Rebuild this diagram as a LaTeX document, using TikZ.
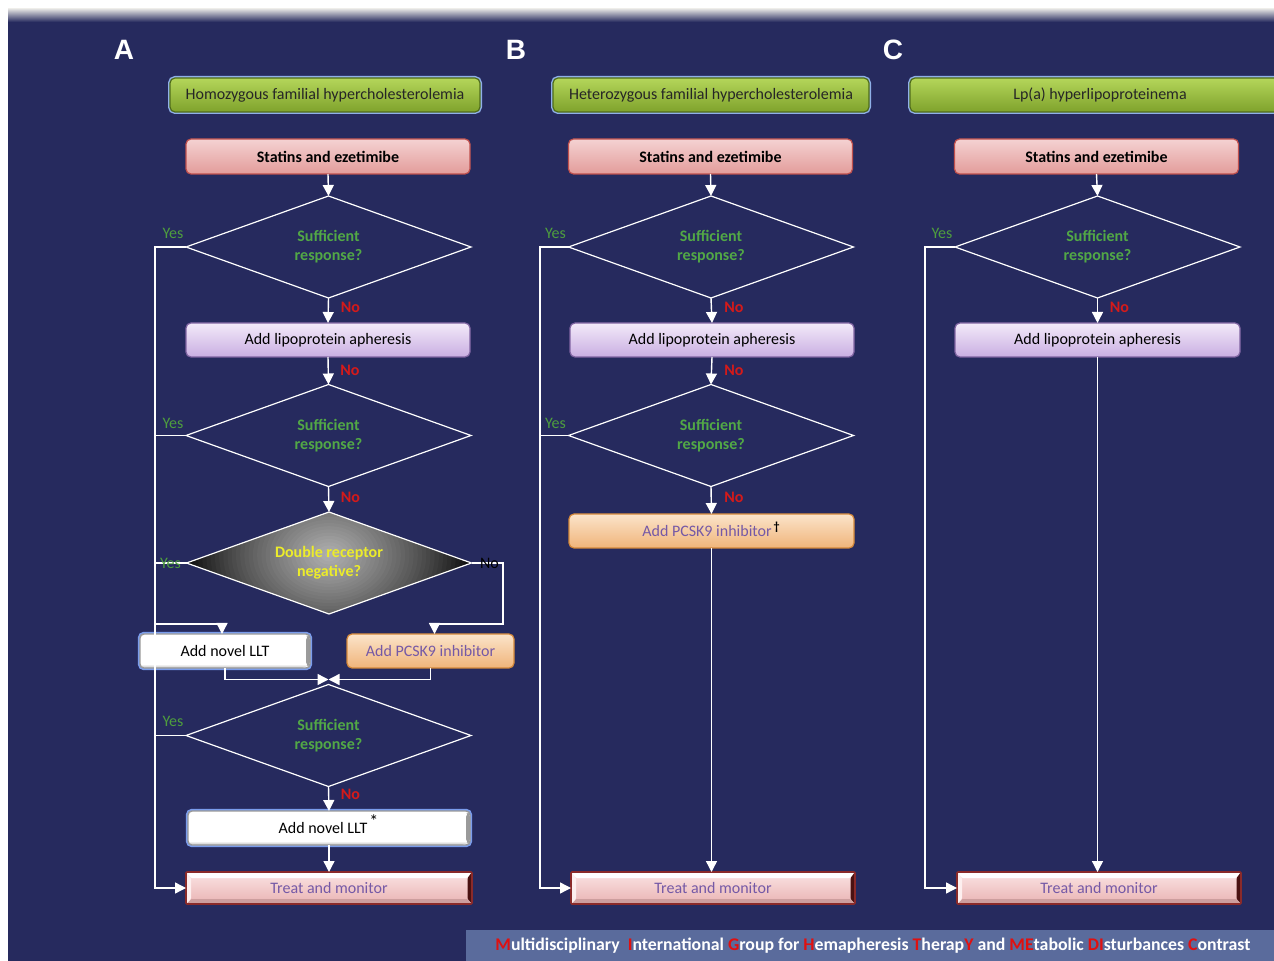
\documentclass[tikz,border=0pt]{standalone}
\usepackage{fontspec}
\setmainfont{Carlito}
\newfontfamily\letterfont{Liberation Sans}
\usetikzlibrary{shapes.geometric,arrows.meta,calc}

\definecolor{bgnavy}{HTML}{262A5E}
\definecolor{grnTop}{HTML}{B4D65A}
\definecolor{grnBot}{HTML}{7FA22C}
\definecolor{grnBorder}{HTML}{4F6B1A}
\definecolor{glow}{HTML}{8FB0E8}
\definecolor{pkTop}{HTML}{F4D2D2}
\definecolor{pkBot}{HTML}{E39C9A}
\definecolor{pkBorder}{HTML}{C0504D}
\definecolor{puTop}{HTML}{F3EAF9}
\definecolor{puBot}{HTML}{C9AEE2}
\definecolor{puBorder}{HTML}{8064A2}
\definecolor{orTop}{HTML}{FBE4CA}
\definecolor{orBot}{HTML}{F0B47A}
\definecolor{orBorder}{HTML}{D5893A}
\definecolor{tmTop}{HTML}{FBE4E4}
\definecolor{tmBot}{HTML}{E9B3B3}
\definecolor{tmBorder}{HTML}{8A2A2A}
\definecolor{tmDark}{HTML}{4A1212}
\definecolor{txtPurple}{HTML}{7559A6}
\definecolor{sufGreen}{HTML}{52A846}
\definecolor{yesGreen}{HTML}{4E9E3E}
\definecolor{noRed}{HTML}{D41A1A}
\definecolor{drYellow}{HTML}{ECEC2A}
\definecolor{llBlue}{HTML}{7A9CEC}
\definecolor{bannerBlue}{HTML}{5A6B9C}
\definecolor{bnRed}{HTML}{E01010}

\newcommand\redl[1]{{\color{bnRed}#1}}

\tikzset{
  basefont/.style={font=\fontsize{8}{9.6}\selectfont},
  box/.style={rectangle, rounded corners=2.5pt, minimum width=142pt, minimum height=17pt,
    inner sep=0pt, outer sep=0pt, line width=0.6pt, basefont},
  hdr/.style={box, minimum width=155pt, minimum height=17pt, top color=grnTop, bottom color=grnBot,
    draw=grnBorder, preaction={draw=glow, line width=2pt}, text=black!85},
  statbox/.style={box, minimum height=17.5pt, top color=pkTop, bottom color=pkBot, draw=pkBorder,
    font=\fontsize{8}{9.6}\selectfont\bfseries, text=black},
  apbox/.style={box, top color=puTop, bottom color=puBot, draw=puBorder, text=black},
  pcbox/.style={box, top color=orTop, bottom color=orBot, draw=orBorder, text=txtPurple},
  llbox/.style={box, rounded corners=2pt, fill=white, draw=black!40, line width=0.7pt,
    preaction={draw=llBlue, line width=2.2pt}, text=black,
    path picture={
      \shade[left color=white, right color=black!40]
        ($(path picture bounding box.north east)+(-2pt,-1pt)$) rectangle ($(path picture bounding box.south east)+(0,1pt)$);
      \shade[top color=white, bottom color=black!25]
        ($(path picture bounding box.south west)+(1pt,2pt)$) rectangle ($(path picture bounding box.south east)+(-2pt,0)$);
    }},
  tmbox/.style={box, rounded corners=0.5pt, minimum width=143pt, minimum height=16pt,
    top color=tmTop, bottom color=tmBot, draw=tmBorder, line width=0.8pt, text=txtPurple,
    path picture={
      \fill[white] (path picture bounding box.north west) -- (path picture bounding box.north east)
        -- ($(path picture bounding box.north east)+(-2.5pt,-3pt)$) -- ($(path picture bounding box.north west)+(2.5pt,-3pt)$) -- cycle;
      \fill[tmDark] (path picture bounding box.north east) -- (path picture bounding box.south east)
        -- ($(path picture bounding box.south east)+(-2.2pt,2.5pt)$) -- ($(path picture bounding box.north east)+(-2.2pt,-3pt)$) -- cycle;
      \fill[tmBot!88!black] (path picture bounding box.south west) -- (path picture bounding box.south east)
        -- ($(path picture bounding box.south east)+(-2.2pt,2.5pt)$) -- ($(path picture bounding box.south west)+(2.5pt,2.5pt)$) -- cycle;
      \fill[tmTop!60!white] (path picture bounding box.north west) -- ($(path picture bounding box.north west)+(2.5pt,-3pt)$)
        -- ($(path picture bounding box.south west)+(2.5pt,2.5pt)$) -- (path picture bounding box.south west) -- cycle;
    }},
  dec/.style={diamond, shape aspect=2.8, draw=white, line width=0.6pt, minimum width=142.5pt,
    minimum height=51pt, inner sep=0pt, outer sep=0pt, align=center, text=sufGreen,
    font=\fontsize{8}{9.6}\selectfont\bfseries},
  drdec/.style={dec, text=drYellow,
    path picture={
      \fill[black] (path picture bounding box.south west) rectangle (path picture bounding box.north east);
      \foreach \i in {0,...,34}{
        \pgfmathsetmacro\ff{1-\i/35}
        \pgfmathsetmacro\cc{100-70*(1-\ff)^0.8}
        \fill[black!\cc] ($(path picture bounding box.center)+(0pt,4pt)$) ellipse ({74pt*\ff} and {56pt*\ff});
      }}},
  conn/.style={draw=white, line width=0.7pt},
  arr/.style={conn, -{Triangle[width=5.5pt,length=5.5pt]}},
  yeslbl/.style={text=yesGreen, inner sep=0pt, basefont},
  nolbl/.style={text=noRed, inner sep=0pt, font=\fontsize{8}{9.6}\selectfont\bfseries},
  letter/.style={text=white, font=\letterfont\bfseries\fontsize{14}{16}\selectfont, inner sep=0pt},
}

\begin{document}
\begin{tikzpicture}[x=0.5pt,y=-0.5pt]
\useasboundingbox (0,0) rectangle (1274,961);
\clip (0,0) rectangle (1274,961);
% background
\fill[white] (0,0) rectangle (1274,961);
\fill[bgnavy] (8,12) rectangle (1274,961);
\shade[top color=black!12, bottom color=bgnavy] (8,9) rectangle (1274,22);
\fill[bannerBlue] (466,930) rectangle (1274,961);
\node[inner sep=0pt, text=white, font=\fontsize{8.9}{10.5}\selectfont\bfseries] (banner) at (873,946)
  {\redl{M}ultidisciplinary\ \ \redl{I}nternational \redl{G}roup for \redl{H}emapheresis \redl{T}herap\redl{Y} and \redl{ME}tabolic \redl{DI}sturbances \redl{C}ontrast};

% letters
\node[letter] (lA) at (124,50) {A};
\node[letter] (lB) at (516,50) {B};
\node[letter] (lC) at (893,50) {C};

% ===== Panel A =====
\node[hdr] (hA) at (325,95) {Homozygous familial hypercholesterolemia};
\node[statbox] (sA) at (328,156.5) {Statins and ezetimibe};
\node[dec] (d1A) at (328.5,247) {Sufficient\\response?};
\node[apbox] (apA) at (328,340) {Add lipoprotein apheresis};
\node[dec] (d2A) at (328.5,435.5) {Sufficient\\response?};
\node[drdec] (drA) at (329,563) {Double receptor\\negative?};
\node[llbox, minimum width=85pt] (nlA) at (225,651) {Add novel LLT};
\node[pcbox, minimum width=83.5pt] (pkA) at (430.5,651) {Add PCSK9 inhibitor};
\node[dec] (d3A) at (328.5,735.5) {Sufficient\\response?};
\node[llbox, minimum width=141pt] (nl2A) at (329,828) {Add novel LLT\smash{\textsuperscript{\,\fontsize{9}{9}\selectfont *}}};
\node[tmbox] (tmA) at (329,888) {Treat and monitor};

\coordinate (railA) at (155,247);
\coordinate (drYes) at (155,624);
\coordinate (drNo) at (503,624);
\draw[arr] (sA.south) -- (d1A.north);
\draw[arr] (d1A.south) -- (apA.north);
\draw[arr] (apA.south) -- (d2A.north);
\draw[arr] (d2A.south) -- (drA.north);
\draw[arr] (drA.west) -| (drYes) -| ([xshift=-1.5pt]nlA.north);
\draw[arr] (drA.east) -| (drNo) -| ([xshift=2pt]pkA.north);
\coordinate (mA) at ($(d3A.north)+(0,-5)$);
\draw[arr] (nlA.south) |- (mA);
\draw[arr] (pkA.south) |- (mA);
\draw[arr] (d3A.south) -- (nl2A.north);
\draw[arr] (nl2A.south) -- (tmA.north);
\draw[arr] (d1A.west) -- (railA) |- (tmA.west);
\draw[conn] (d2A.west) -- (d2A.west -| railA);
\draw[conn] (d3A.west) -- (d3A.west -| railA);

\node[yeslbl] (y1A) at ($(d1A.west)+(-13,-14)$) {Yes};
\node[nolbl] (n1A) at ($(d1A.south)+(22,9)$) {No};
\node[nolbl] (n2A) at ($(apA.south)+(22,13)$) {No};
\node[yeslbl] (y2A) at ($(d2A.west)+(-13,-12)$) {Yes};
\node[nolbl] (n3A) at ($(d2A.south)+(22,11)$) {No};
\node[yeslbl] (y3A) at ($(drA.west)+(-16,0)$) {Yes};
\node[inner sep=0pt, basefont, text=black] (n4A) at ($(drA.east)+(18,0)$) {No};
\node[yeslbl] (y4A) at ($(d3A.west)+(-13,-14)$) {Yes};
\node[nolbl] (n5A) at ($(d3A.south)+(22,8)$) {No};

% ===== Panel B =====
\node[hdr, minimum width=158pt] (hB) at (711,95) {Heterozygous familial hypercholesterolemia};
\node[statbox] (sB) at (710.5,156.5) {Statins and ezetimibe};
\node[dec] (d1B) at (711,247) {Sufficient\\response?};
\node[apbox] (apB) at (712,340) {Add lipoprotein apheresis};
\node[dec] (d2B) at (711,435.5) {Sufficient\\response?};
\node[pcbox, minimum width=142.5pt] (pkB) at (711.5,531) {Add PCSK9 inhibitor\smash{\textsuperscript{\textcolor{black}{\bfseries\,†}}}};
\node[tmbox, minimum width=142pt] (tmB) at (713,888) {Treat and monitor};

\coordinate (railB) at (540,247);
\draw[arr] (sB.south) -- (d1B.north);
\draw[arr] (d1B.south) -- (apB.north);
\draw[arr] (apB.south) -- (d2B.north);
\draw[arr] (d2B.south) -- (pkB.north);
\draw[arr] (pkB.south) -- (pkB.south |- tmB.north);
\draw[arr] (d1B.west) -- (railB) |- (tmB.west);
\draw[conn] (d2B.west) -- (d2B.west -| railB);

\node[yeslbl] (y1B) at ($(d1B.west)+(-13,-14)$) {Yes};
\node[nolbl] (n1B) at ($(d1B.south)+(23,9)$) {No};
\node[nolbl] (n2B) at ($(apB.south)+(22,13)$) {No};
\node[yeslbl] (y2B) at ($(d2B.west)+(-13,-12)$) {Yes};
\node[nolbl] (n3B) at ($(d2B.south)+(23,11)$) {No};

% ===== Panel C =====
\node[hdr, minimum width=190pt] (hC) at (1100,95) {Lp(a) hyperlipoproteinema};
\node[statbox] (sC) at (1096.5,156.5) {Statins and ezetimibe};
\node[dec] (d1C) at (1097.5,247) {Sufficient\\response?};
\node[apbox, minimum width=142.5pt] (apC) at (1097.5,340) {Add lipoprotein apheresis};
\node[tmbox, minimum width=142pt] (tmC) at (1099,888) {Treat and monitor};

\coordinate (railC) at (925,247);
\draw[arr] (sC.south) -- (d1C.north);
\draw[arr] (d1C.south) -- (apC.north);
\draw[arr] (apC.south) -- (apC.south |- tmC.north);
\draw[arr] (d1C.west) -- (railC) |- (tmC.west);

\node[yeslbl] (y1C) at ($(d1C.west)+(-13,-14)$) {Yes};
\node[nolbl] (n1C) at ($(d1C.south)+(22,9)$) {No};
\end{tikzpicture}
\end{document}
